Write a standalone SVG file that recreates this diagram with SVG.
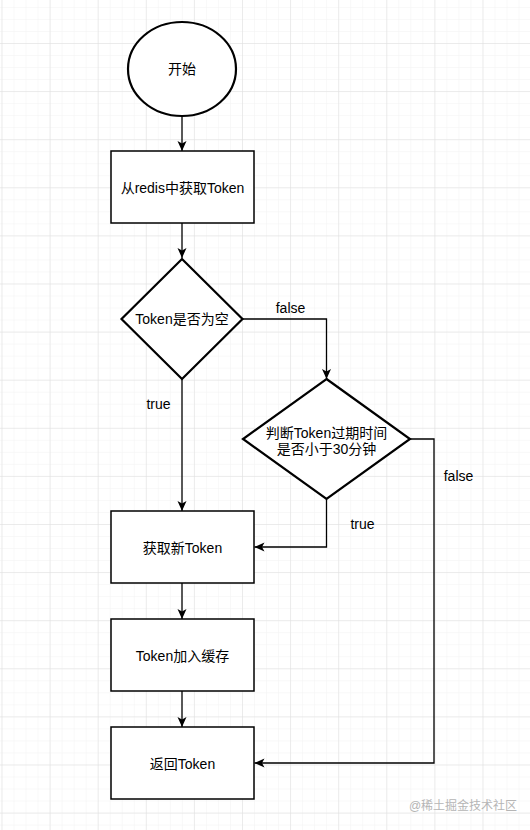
<svg xmlns="http://www.w3.org/2000/svg" width="530" height="830" viewBox="0 0 530 830">
<style>
.shape{fill:#ffffff;stroke:#000000;}
.rect{stroke-width:1.5;}
.thick{stroke-width:2.2;}
.edge{fill:none;stroke:#000000;stroke-width:1.3;}
text{font-family:"Liberation Sans","Noto Sans CJK SC",sans-serif;font-size:14px;fill:#000000;}
.lbl{text-anchor:middle;}
.wm{font-size:12px;fill:#b5b5b5;}
</style>
<defs>
<pattern id="minor" x="1.5" y="-5.1" width="12.025" height="12.025" patternUnits="userSpaceOnUse">
<path d="M0,0 H12.025 M0,0 V12.025" fill="none" stroke="#f2f2f2" stroke-width="1"/>
</pattern>
<pattern id="major" x="1.5" y="-5.1" width="48.1" height="48.1" patternUnits="userSpaceOnUse">
<path d="M0,0 H48.1 M0,0 V48.1" fill="none" stroke="#dedede" stroke-width="1"/>
</pattern>
<marker id="arrow" markerWidth="12" markerHeight="10" refX="10" refY="4.5" orient="auto" markerUnits="userSpaceOnUse">
<path d="M0,0 L10,4.5 L0,9 L2.5,4.5 Z" fill="#000000"/>
</marker>
</defs>
<rect width="530" height="830" fill="#ffffff"/>
<rect width="530" height="830" fill="url(#minor)"/>
<rect width="530" height="830" fill="url(#major)"/>

<g id="edges">
<path class="edge" d="M182,116 V151" marker-end="url(#arrow)"/>
<path class="edge" d="M182,223 V258" marker-end="url(#arrow)"/>
<path class="edge" d="M243,319 H326.5 V379" marker-end="url(#arrow)"/>
<path class="edge" d="M182,379 V511" marker-end="url(#arrow)"/>
<path class="edge" d="M326.5,499 V547 H254.5" marker-end="url(#arrow)"/>
<path class="edge" d="M410,439 H434 V763 H254.5" marker-end="url(#arrow)"/>
<path class="edge" d="M182,583 V619" marker-end="url(#arrow)"/>
<path class="edge" d="M182,691 V727" marker-end="url(#arrow)"/>
<text x="290.5" y="313" class="lbl">false</text>
<text x="158.5" y="409" class="lbl">true</text>
<text x="362.5" y="529" class="lbl">true</text>
<text x="458.5" y="481" class="lbl">false</text>
</g>

<g id="start">
<ellipse class="shape thick" cx="182" cy="69" rx="54" ry="47"/>
<text x="182" y="74" class="lbl">开始</text>
</g>
<g id="get-redis">
<rect class="shape rect" x="111" y="151" width="143" height="72"/>
<text x="182.5" y="193" class="lbl">从redis中获取Token</text>
</g>
<g id="is-empty">
<polygon class="shape thick" points="182,259 242.5,319 182,379 121.5,319"/>
<text x="182" y="324" class="lbl">Token是否为空</text>
</g>
<g id="expire-check">
<polygon class="shape thick" points="326.5,379 410,439 326.5,499 243,439"/>
<text x="326.5" y="438" class="lbl">判断Token过期时间</text>
<text x="326.5" y="453.5" class="lbl">是否小于30分钟</text>
</g>
<g id="get-new">
<rect class="shape rect" x="111" y="511" width="143" height="72"/>
<text x="182.5" y="552.5" class="lbl">获取新Token</text>
</g>
<g id="cache">
<rect class="shape rect" x="111" y="619" width="143" height="72"/>
<text x="182.5" y="660.5" class="lbl">Token加入缓存</text>
</g>
<g id="return">
<rect class="shape rect" x="111" y="727" width="143" height="72"/>
<text x="182.5" y="768.5" class="lbl">返回Token</text>
</g>
<text x="463" y="810" class="wm lbl">@稀土掘金技术社区</text>
</svg>
